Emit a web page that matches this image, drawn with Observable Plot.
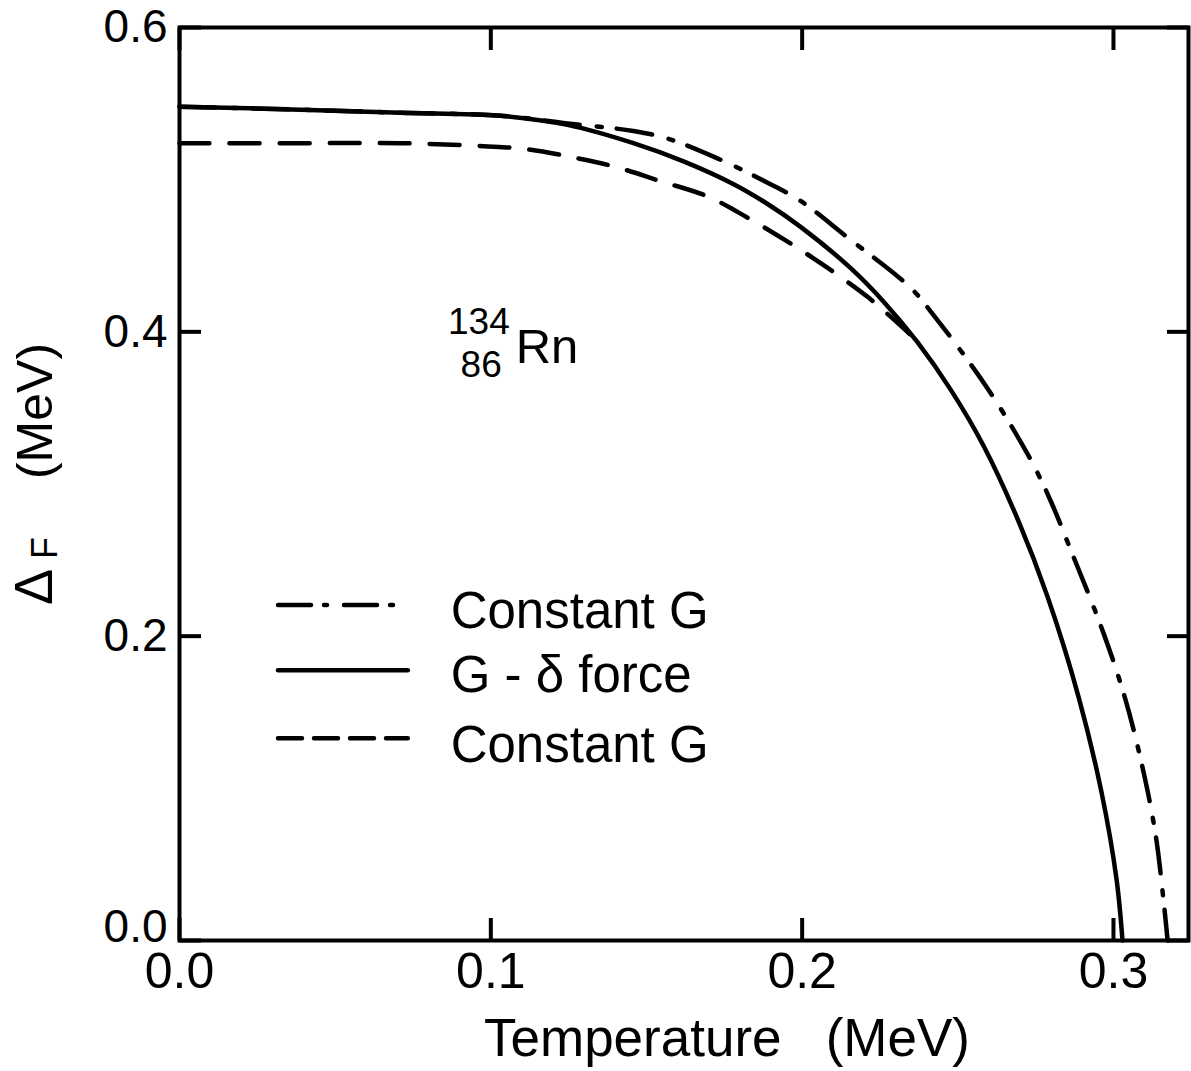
<!DOCTYPE html>
<html>
<head>
<meta charset="utf-8">
<script src="https://cdn.jsdelivr.net/npm/d3@7"></script>
<script src="https://cdn.jsdelivr.net/npm/@observablehq/plot@0.6"></script>
<style>
  html, body { margin: 0; padding: 0; background: white; }
  #chart { width: 1191px; height: 1071px; }
</style>
</head>
<body>
<div id="chart"></div>
<script>
// ---- Data ----
// G - delta force (solid)
const tempSolid  = [0, 0.0389, 0.0710, 0.1031, 0.1246, 0.1458, 0.1619, 0.1780, 0.1889, 0.1995, 0.2155, 0.2261, 0.2371, 0.2477, 0.2583, 0.2692, 0.2788, 0.2888, 0.2962, 0.3010, 0.3029];
const deltaSolid = [0.548, 0.546, 0.544, 0.542, 0.536, 0.524, 0.512, 0.497, 0.484, 0.469, 0.442, 0.420, 0.393, 0.362, 0.325, 0.277, 0.226, 0.160, 0.097, 0.040, 0.000];

// Constant G (dash-dot)
const tempDashDot  = [0, 0.0389, 0.0710, 0.1031, 0.1246, 0.1458, 0.1568, 0.1728, 0.1889, 0.1995, 0.2146, 0.2348, 0.2422, 0.2595, 0.2734, 0.2798, 0.2862, 0.2968, 0.3039, 0.3093, 0.3135, 0.3161, 0.3174];
const deltaDashDot = [0.548, 0.546, 0.544, 0.542, 0.537, 0.532, 0.527, 0.514, 0.498, 0.486, 0.462, 0.429, 0.411, 0.363, 0.316, 0.289, 0.257, 0.202, 0.158, 0.114, 0.070, 0.026, 0.000];

// Constant G (dashed)
const tempDashed  = [0, 0.0389, 0.0710, 0.0977, 0.1118, 0.1279, 0.1407, 0.1545, 0.1696, 0.1825, 0.1963, 0.2082, 0.2210, 0.2284, 0.2348, 0.2371];
const deltaDashed = [0.524, 0.524, 0.524, 0.522, 0.520, 0.514, 0.508, 0.499, 0.489, 0.475, 0.458, 0.442, 0.423, 0.410, 0.398, 0.393];

const xTicks = [0.0, 0.1, 0.2, 0.3];
const yTicks = [0.0, 0.2, 0.4, 0.6];
const legendLabels = ["Constant G", "G - \u03b4 force", "Constant G"];
const xLabel = "Temperature\u00a0\u00a0\u00a0(MeV)";
const yLabelSymbol = "\u0394";
const yLabelSub = "F";
const yLabelUnit = "(MeV)";
const nuclideMass = "134";
const nuclideCharge = "86";
const nuclideSymbol = "Rn";

// ---- Build tables ----
const toRows = (T, D) => T.map((t, i) => ({T: t, D: D[i]}));
const solid = toRows(tempSolid, deltaSolid);
const dashDot = toRows(tempDashDot, deltaDashDot);
const dashed = toRows(tempDashed, deltaDashed);

// ---- Styles ----
const LW = 4.5;
const DASH_DOT = "36,17,5,15";
const DASHED = "30,20";
const LEG_DASH_DOT = "33,13,3,17";
const LEG_DASHED = "24,12";
const FONT = "Liberation Sans, Arial, sans-serif";

// legend layout (in data units of the chart)
const legX1 = 0.0318, legX2 = 0.0735, legTextX = 0.0871;
const legLineY = [0.2204, 0.1776, 0.1329];
const legTextY = [0.2164, 0.1743, 0.1283];
const legDash = [LEG_DASH_DOT, null, LEG_DASHED];
const annT = 0.108, annD = 0.390;

const fmt = d3.format(".1f");

const legendMarks = legendLabels.flatMap((lab, i) => [
  Plot.ruleY([legLineY[i]], {x1: legX1, x2: legX2, stroke: "black", strokeWidth: LW,
    strokeLinecap: "round", strokeDasharray: legDash[i] ?? undefined}),
  Plot.text([lab], {x: legTextX, y: legTextY[i], text: d => d, textAnchor: "start",
    lineAnchor: "middle", fontSize: 51, fill: "black"})
]);

const T = (opts) => ({text: d => d, textAnchor: "middle", lineAnchor: "middle", fill: "black", ...opts});

const chart = Plot.plot({
  width: 1191,
  height: 1071,
  marginLeft: 179,
  marginRight: 3,
  marginTop: 27,
  marginBottom: 131,
  x: {domain: [0, 0.3241]},
  y: {domain: [0, 0.6]},
  style: {fontFamily: FONT, background: "white", color: "black", overflow: "visible"},
  marks: [
    Plot.frame({stroke: "black", strokeWidth: 4}),
    Plot.axisX({anchor: "bottom", ticks: xTicks, tickSize: -22, tickPadding: 34, strokeWidth: 4,
      tickFormat: fmt, fontSize: 50, label: null}),
    Plot.axisX({anchor: "top", ticks: xTicks, tickSize: -22, strokeWidth: 4,
      tickFormat: () => "", label: null}),
    Plot.axisY({anchor: "left", ticks: yTicks, tickSize: -22, tickPadding: 34, strokeWidth: 4,
      tickFormat: d => (d === 0 ? "" : fmt(d)), fontSize: 46, label: null}),
    Plot.axisY({anchor: "right", ticks: yTicks, tickSize: -22, strokeWidth: 4,
      tickFormat: () => "", label: null}),
    // the "0.0" label of the y axis sits slightly raised in the reference
    Plot.text([fmt(yTicks[0])], T({frameAnchor: "bottom-left", textAnchor: "end", fontSize: 46, dx: -12, dy: -13})),
    Plot.line(dashDot, {x: "T", y: "D", curve: "catmull-rom", stroke: "black", strokeWidth: LW,
      strokeLinecap: "round", strokeDasharray: DASH_DOT}),
    Plot.line(dashed, {x: "T", y: "D", curve: "catmull-rom", stroke: "black", strokeWidth: LW,
      strokeLinecap: "round", strokeDasharray: DASHED}),
    Plot.line(solid, {x: "T", y: "D", curve: "catmull-rom", stroke: "black", strokeWidth: LW,
      strokeLinecap: "round"}),
    ...legendMarks,
    // nuclide annotation
    Plot.text([nuclideSymbol], T({x: annT, y: annD, textAnchor: "start", fontSize: 49})),
    Plot.text([nuclideMass], T({x: annT, y: annD, textAnchor: "end", fontSize: 37, dx: -6, dy: -25})),
    Plot.text([nuclideCharge], T({x: annT, y: annD, textAnchor: "end", fontSize: 37, dx: -14, dy: 18})),
    // axis titles
    Plot.text([xLabel], T({frameAnchor: "bottom", fontSize: 53, dx: 43, dy: 99})),
    Plot.text([yLabelSymbol], T({frameAnchor: "left", rotate: -90, fontSize: 54, dx: -145, dy: 103})),
    Plot.text([yLabelSub], T({frameAnchor: "left", rotate: -90, fontSize: 36, dx: -134, dy: 64})),
    Plot.text([yLabelUnit], T({frameAnchor: "left", rotate: -90, fontSize: 50, dx: -144, dy: -73}))
  ]
});

document.getElementById("chart").appendChild(chart);
</script>
</body>
</html>
